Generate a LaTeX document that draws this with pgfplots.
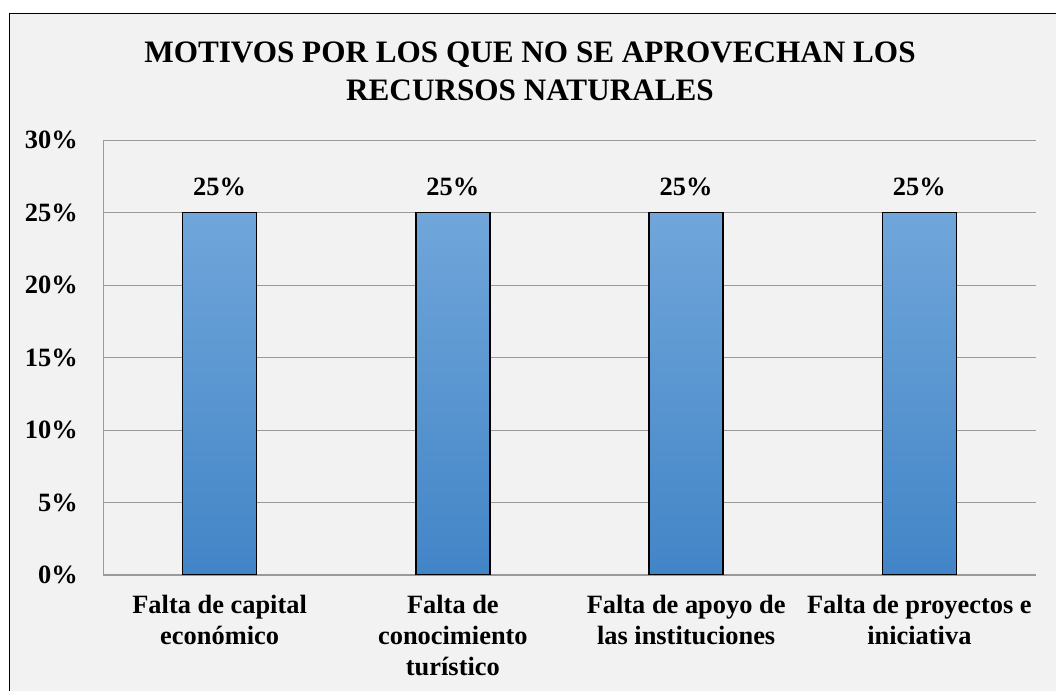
\documentclass[border=0pt]{standalone}
\usepackage{pgfplots}
\pgfplotsset{compat=1.18}
\usepackage{fontspec}
\setmainfont{Liberation Serif}
\definecolor{bgc}{HTML}{F2F2F2}
\definecolor{gridc}{HTML}{9A9A9A}
\definecolor{barTop}{RGB}{112,166,218}
\definecolor{barBot}{RGB}{66,133,199}
\begin{document}
\begin{tikzpicture}[x=1bp,y=1bp]
\useasboundingbox (0,0) rectangle (1056,691);
\fill[white] (0,0) rectangle (1056,691);
\begin{scope}
\clip (0,0) rectangle (1056,691);
\draw[black, line width=1bp, fill=bgc] (9.5,-10) rectangle (1070,677.5);
\end{scope}
\node[font=\bfseries\fontsize{31.3}{38}\selectfont, anchor=base] at (530,628) {MOTIVOS POR LOS QUE NO SE APROVECHAN LOS};
\node[font=\bfseries\fontsize{31.3}{38}\selectfont, anchor=base] at (530,590) {RECURSOS NATURALES};
\begin{axis}[
  at={(103bp,116bp)}, anchor=south west,
  width=933bp, height=435bp, scale only axis,
  ymin=0, ymax=30, xmin=-0.5, xmax=3.5,
  ytick={0,5,10,15,20,25,30},
  yticklabel={\pgfmathprintnumber{\tick}\%},
  xtick={0,1,2,3},
  xticklabels={{Falta de capital\\económico},{Falta de\\conocimiento\\turístico},{Falta de apoyo de\\las instituciones},{Falta de proyectos e\\iniciativa}},
  /pgf/number format/assume math mode=true,
  ybar, bar width=74bp,
  ymajorgrids, grid style={draw=gridc, line width=0.8bp},
  axis x line=bottom, axis y line=left,
  axis line style={draw=gridc, line width=1bp, -},
  major tick length=0pt,
  tick label style={font=\bfseries\fontsize{26.5}{31}\selectfont},
  yticklabel style={anchor=east, inner sep=0pt, xshift=-25bp},
  xticklabel style={anchor=north, align=center, inner sep=0pt, yshift=-20bp},
  nodes near coords={\pgfmathprintnumber{\pgfplotspointmeta}\%},
  every node near coord/.append style={font=\bfseries\fontsize{26.5}{31}\selectfont, anchor=base, yshift=17bp, /pgf/number format/assume math mode=true},
]
\addplot[draw=black, line width=1.5bp, top color=barTop, bottom color=barBot] coordinates {(0,25) (1,25) (2,25) (3,25)};
\end{axis}
\end{tikzpicture}
\end{document}
